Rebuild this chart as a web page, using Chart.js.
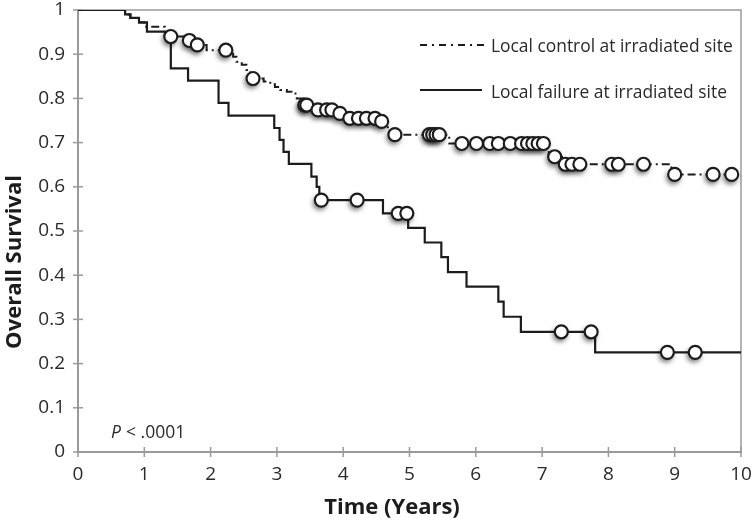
<!DOCTYPE html>
<html><head><meta charset="utf-8">
<script src="https://cdn.jsdelivr.net/npm/chart.js@4.4.0/dist/chart.umd.min.js"></script>
<style>html,body{margin:0;padding:0;background:#fff;}</style>
</head><body>
<canvas id="c" width="755" height="528"></canvas>
<script>
const seriesNames = ['Local control at irradiated site', 'Local failure at irradiated site'];
const xTickLabels = ['0','1','2','3','4','5','6','7','8','9','10'];
const yTickLabels = ['0','0.1','0.2','0.3','0.4','0.5','0.6','0.7','0.8','0.9','1'];
const xTitle = 'Time (Years)';
const yTitle = 'Overall Survival';
const pText = '.0001';

const controlTimes = [0, 0.71, 0.79, 0.92, 1.00, 1.31, 1.60, 1.75, 1.94, 2.34, 2.39, 2.47, 2.54, 2.60, 2.80, 2.90, 2.97, 3.05, 3.15, 3.22, 3.30, 3.40, 3.55, 3.90, 4.05, 4.55, 4.62, 4.70, 5.60, 7.10, 7.30, 8.95, 10];
const controlSurv  = [1, 0.99, 0.982, 0.972, 0.962, 0.940, 0.931, 0.921, 0.909, 0.894, 0.883, 0.876, 0.864, 0.845, 0.838, 0.832, 0.826, 0.819, 0.815, 0.811, 0.800, 0.785, 0.774, 0.766, 0.755, 0.748, 0.735, 0.718, 0.698, 0.668, 0.651, 0.628, 0.628];
const controlCensorTimes = [1.40, 1.68, 1.80, 2.23, 2.64, 3.42, 3.45, 3.62, 3.75, 3.83, 3.95, 4.10, 4.23, 4.35, 4.48, 4.58, 4.78, 5.30, 5.35, 5.40, 5.45, 5.79, 6.01, 6.21, 6.34, 6.52, 6.69, 6.78, 6.86, 6.94, 7.02, 7.19, 7.35, 7.45, 7.57, 8.05, 8.15, 8.53, 9.00, 9.58, 9.86];
const controlCensorSurv  = [0.940, 0.931, 0.921, 0.909, 0.845, 0.785, 0.785, 0.774, 0.774, 0.774, 0.766, 0.755, 0.755, 0.755, 0.755, 0.748, 0.718, 0.718, 0.718, 0.718, 0.718, 0.698, 0.698, 0.698, 0.698, 0.698, 0.698, 0.698, 0.698, 0.698, 0.698, 0.668, 0.651, 0.651, 0.651, 0.651, 0.651, 0.651, 0.628, 0.628, 0.628];

const failureTimes = [0, 0.71, 0.79, 0.92, 1.04, 1.40, 1.66, 2.12, 2.27, 2.96, 3.04, 3.10, 3.18, 3.52, 3.60, 3.64, 4.60, 4.98, 5.23, 5.48, 5.58, 5.86, 6.34, 6.42, 6.68, 7.80, 10];
const failureSurv  = [1, 0.99, 0.982, 0.972, 0.951, 0.868, 0.840, 0.790, 0.761, 0.733, 0.706, 0.679, 0.652, 0.623, 0.600, 0.570, 0.540, 0.507, 0.474, 0.441, 0.407, 0.374, 0.340, 0.306, 0.272, 0.2255, 0.2255];
const failureCensorTimes = [3.67, 4.21, 4.83, 4.96, 7.29, 7.74, 8.89, 9.31];
const failureCensorSurv  = [0.570, 0.570, 0.540, 0.540, 0.272, 0.272, 0.2255, 0.2255];

const FONT = '"Open Sans", "DejaVu Sans", sans-serif';
const INK = '#1c1c1c';
const AXIS = '#9a9a9a';
const dashDot = [8, 4, 2, 4];

function pts(xs, ys) { return xs.map((x, i) => ({x: x, y: ys[i]})); }

const censorStyle = {
  showLine: false, pointRadius: 6.5, pointHoverRadius: 6.5,
  pointBackgroundColor: '#ffffff', pointBorderColor: INK, pointBorderWidth: 2.2,
  order: 1, clip: false
};

const datasets = [
  Object.assign({label: seriesNames[0] + ' censored', data: pts(controlCensorTimes, controlCensorSurv), isCensor: true}, censorStyle),
  Object.assign({label: seriesNames[1] + ' censored', data: pts(failureCensorTimes, failureCensorSurv), isCensor: true}, censorStyle),
  {label: seriesNames[0], data: pts(controlTimes, controlSurv), stepped: 'before', borderColor: INK, borderWidth: 2, borderDash: dashDot, pointRadius: 0, fill: false, order: 2},
  {label: seriesNames[1], data: pts(failureTimes, failureSurv), stepped: 'before', borderColor: INK, borderWidth: 2.2, pointRadius: 0, fill: false, order: 2}
];

// soft drop shadow under censor circles (shape drawn off-canvas, only its shadow lands)
const shadowPlugin = {
  id: 'censorShadow',
  beforeDatasetDraw(chart, args) {
    const ds = chart.data.datasets[args.index];
    if (!ds.isCensor) return;
    const c = chart.ctx, far = 5000;
    const meta = chart.getDatasetMeta(args.index);
    c.save();
    c.shadowColor = 'rgba(0,0,0,0.55)'; c.shadowBlur = 5;
    c.shadowOffsetX = far - 1.5; c.shadowOffsetY = 3;
    c.fillStyle = '#000';
    meta.data.forEach(el => {
      c.beginPath(); c.arc(el.x - far, el.y, 7, 0, Math.PI * 2); c.fill();
    });
    c.restore();
  }
};

const decorPlugin = {
  id: 'decor',
  beforeDatasetsDraw(chart) {
    const c = chart.ctx, a = chart.chartArea, xs = chart.scales.x, ys = chart.scales.y;
    c.save();
    c.strokeStyle = AXIS;
    c.lineWidth = 1.5;
    c.beginPath();
    c.moveTo(a.left, a.top); c.lineTo(a.right, a.top); c.lineTo(a.right, a.bottom);
    c.stroke();
    xs.ticks.forEach(t => {
      const px = xs.getPixelForValue(t.value);
      c.beginPath(); c.moveTo(px, a.bottom - 5); c.lineTo(px, a.bottom + 5); c.stroke();
    });
    ys.ticks.forEach(t => {
      const py = ys.getPixelForValue(t.value);
      c.beginPath(); c.moveTo(a.left - 5, py); c.lineTo(a.left + 5, py); c.stroke();
    });
    c.restore();
  },
  afterDraw(chart) {
    const c = chart.ctx;
    c.save();
    c.fillStyle = INK;
    c.font = 'bold 22px ' + FONT;
    c.textAlign = 'center'; c.textBaseline = 'middle';
    c.fillText(xTitle, 392, 508);
    c.save();
    c.translate(15, 262); c.rotate(-Math.PI / 2);
    c.fillText(yTitle, 0, 0);
    c.restore();
    const lx0 = 420, lx1 = 482, tx = 491;
    c.strokeStyle = INK; c.lineWidth = 2.2;
    c.setLineDash([7, 5, 2, 5]);
    c.beginPath(); c.moveTo(lx0, 45); c.lineTo(lx1 + 2, 45); c.stroke();
    c.setLineDash([]);
    c.beginPath(); c.moveTo(lx0, 90); c.lineTo(lx1, 90); c.stroke();
    c.font = '17.4px ' + FONT; c.textAlign = 'left'; c.textBaseline = 'middle';
    c.fillStyle = '#2a2a2a';
    c.fillText(seriesNames[0], tx, 47);
    c.fillText(seriesNames[1], tx, 93);
    c.textBaseline = 'alphabetic';
    c.font = 'italic 17.5px ' + FONT;
    c.fillText('P', 111, 438);
    c.font = '17.5px ' + FONT;
    c.fillText('< ' + pText, 126, 438);
    c.restore();
  }
};

new Chart(document.getElementById('c'), {
  type: 'line',
  data: {datasets: datasets},
  plugins: [shadowPlugin, decorPlugin],
  options: {
    responsive: false, animation: false, devicePixelRatio: 1,
    layout: {padding: {top: 10, right: 14, left: 0, bottom: 0}},
    plugins: {legend: {display: false}, tooltip: {enabled: false}},
    scales: {
      x: {
        type: 'linear', min: 0, max: 10,
        grid: {display: false, drawTicks: false},
        border: {display: true, color: AXIS, width: 2},
        ticks: {stepSize: 1, padding: 11, color: '#2a2a2a', font: {family: FONT, size: 19},
          maxRotation: 0, autoSkip: false,
          callback: (v, i) => xTickLabels[i]},
        afterFit(s) { s.height = 76; s.paddingLeft = 0; s.paddingRight = 0; }
      },
      y: {
        type: 'linear', min: 0, max: 1,
        grid: {display: false, drawTicks: false},
        border: {display: true, color: AXIS, width: 2},
        ticks: {stepSize: 0.1, padding: 13, color: '#2a2a2a', font: {family: FONT, size: 19},
          autoSkip: false,
          callback: (v, i) => yTickLabels[i]},
        afterFit(s) { s.width = 78; s.paddingTop = 0; s.paddingBottom = 0; }
      }
    }
  }
});
</script>
</body></html>
